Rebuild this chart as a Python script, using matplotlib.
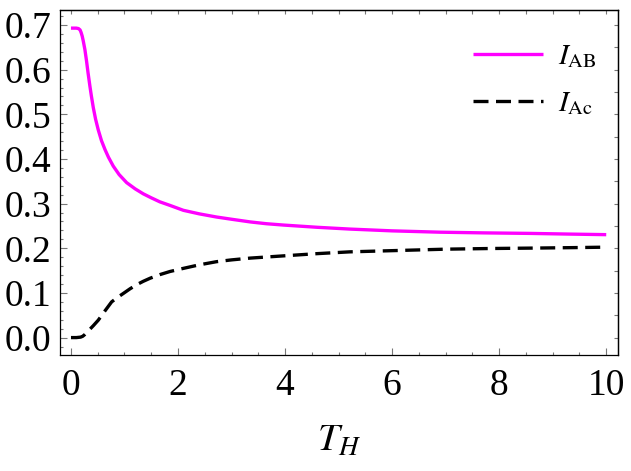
import numpy as np
import matplotlib
matplotlib.use("Agg")
import matplotlib.pyplot as plt
from matplotlib.ticker import MultipleLocator, NullFormatter

plt.rcParams['font.family'] = ['Liberation Serif', 'DejaVu Serif']
plt.rcParams['mathtext.fontset'] = 'stix'
plt.rcParams['lines.scale_dashes'] = False

# values
th_ab = [0.0, 0.05, 0.10, 0.14, 0.17, 0.19, 0.21, 0.23, 0.26, 0.29, 0.32,
         0.355, 0.38, 0.417, 0.46, 0.51, 0.57, 0.636, 0.7, 0.79, 0.9, 1.04,
         1.2, 1.35, 1.5, 1.66, 1.85, 2.1, 2.4, 2.72, 3.0, 3.35, 3.65, 3.97,
         4.6, 5.21, 6.0, 6.9, 7.7, 8.58, 9.3, 10.0]
i_ab = [0.693, 0.693, 0.693, 0.692, 0.689, 0.683, 0.675, 0.664, 0.645, 0.620,
        0.592, 0.562, 0.542, 0.515, 0.489, 0.465, 0.441, 0.421, 0.404, 0.384,
        0.365, 0.347, 0.333, 0.322, 0.313, 0.304, 0.296, 0.285, 0.277, 0.270,
        0.265, 0.259, 0.255, 0.252, 0.247, 0.243, 0.239, 0.236, 0.2345,
        0.2333, 0.2318, 0.2305]

th_ac = [0.0, 0.1, 0.18, 0.22, 0.26, 0.30, 0.34, 0.42, 0.51, 0.63, 0.76,
         0.87, 0.98, 1.1, 1.22, 1.35, 1.48, 1.66, 1.85, 2.1, 2.4, 2.72, 3.0,
         3.35, 3.97, 4.6, 5.21, 6.1, 7.0, 7.85, 8.7, 9.4, 10.0]
i_ac = [0.0, 0.0, 0.001, 0.003, 0.007, 0.012, 0.017, 0.027, 0.039, 0.059,
        0.080, 0.090, 0.099, 0.109, 0.118, 0.126, 0.133, 0.141, 0.148, 0.155,
        0.163, 0.170, 0.174, 0.178, 0.183, 0.188, 0.192, 0.195, 0.198,
        0.1995, 0.2005, 0.2015, 0.2025]

x_major = [0, 2, 4, 6, 8, 10]
y_major = [0.0, 0.1, 0.2, 0.3, 0.4, 0.5, 0.6, 0.7]

fig = plt.figure(figsize=(6.31, 4.71), dpi=100)
ax = fig.add_axes([60/631, 1 - 355/471, 558/631, 345/471])

ax.plot(th_ab, i_ab, color='#ff00ff', lw=2.4, label=r'$I_{\mathrm{AB}}$',
        solid_capstyle='butt', solid_joinstyle='round')
ax.plot(th_ac, i_ac, color='black', lw=2.4, dashes=(10.8, 5.4),
        label=r'$I_{\mathrm{Ac}}$')

ax.set_xlim(-0.205, 10.22)
ax.set_ylim(-0.039, 0.7336)

ax.set_xticks(x_major)
ax.set_yticks(y_major)
ax.set_yticklabels(['%.1f' % v for v in y_major])
ax.xaxis.set_minor_locator(MultipleLocator(0.5))
ax.yaxis.set_minor_locator(MultipleLocator(0.02))
ax.tick_params(which='both', direction='in', color='#777777', width=0.8,
               top=False, right=False, labelsize=27)
ax.tick_params(axis='y', pad=6.3)
ax.tick_params(axis='x', pad=10)
ax.tick_params(which='major', length=4.8)
ax.tick_params(which='minor', length=2.4)

# frame ticks on top/right, no labels
top = ax.secondary_xaxis('top')
top.xaxis.set_major_locator(MultipleLocator(0.5))
top.xaxis.set_major_formatter(NullFormatter())
top.tick_params(direction='in', length=2.6, width=0.8, color='#777777')
right = ax.secondary_yaxis('right')
right.yaxis.set_major_locator(MultipleLocator(0.05))
right.yaxis.set_major_formatter(NullFormatter())
right.tick_params(direction='in', length=2.6, width=0.8, color='#777777')
for a in (ax, top, right):
    for s in a.spines.values():
        s.set_linewidth(0.9)

ax.set_xlabel(r'$T_H$', fontsize=28, labelpad=14)

fig.legend(loc='upper left', bbox_to_anchor=(473/631, 1 - 43/471),
           bbox_transform=fig.transFigure, frameon=False, fontsize=21,
           borderpad=0, borderaxespad=0, handlelength=2.4,
           handletextpad=0.5, labelspacing=0.7)

fig.savefig('out.png', dpi=100)
